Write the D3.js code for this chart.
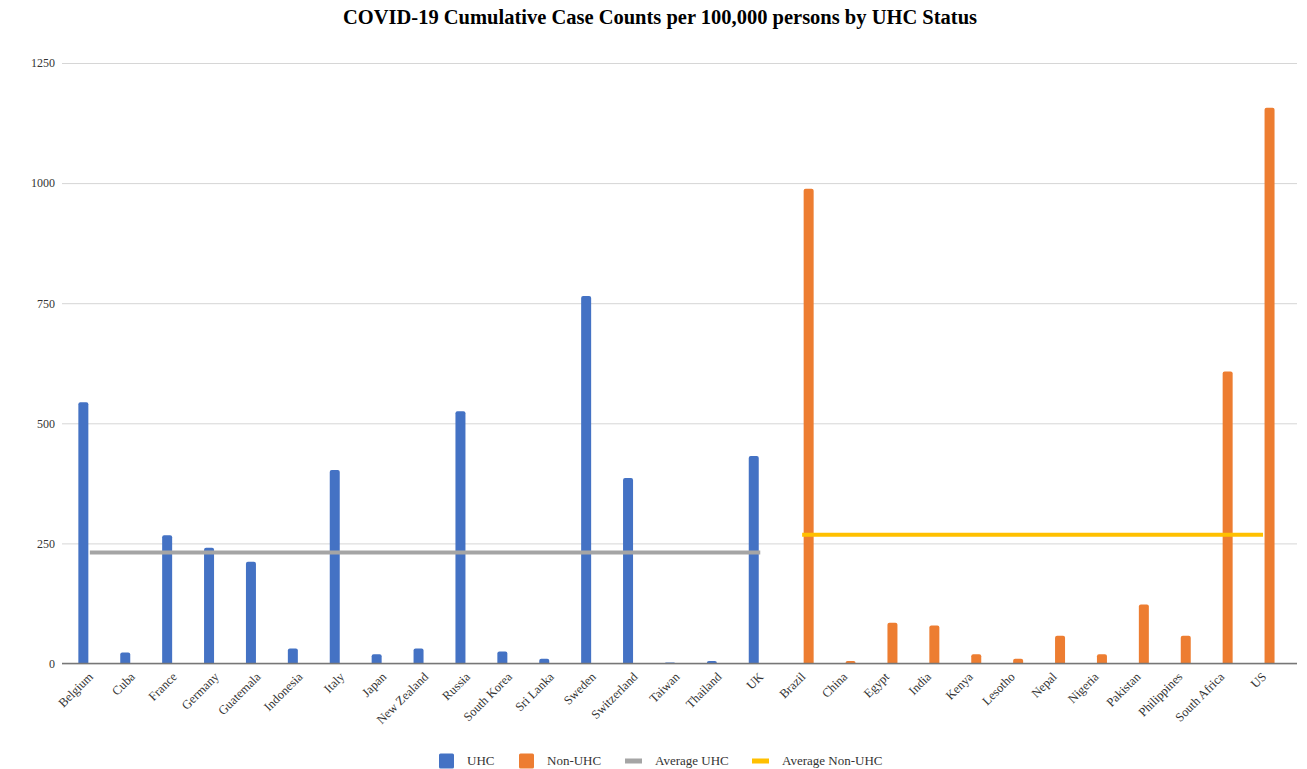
<!DOCTYPE html>
<html>
<head>
<meta charset="utf-8">
<script src="https://cdn.jsdelivr.net/npm/d3@7"></script>
<style>
  html, body { margin: 0; padding: 0; background: #fff; }
  svg { display: block; font-family: "Liberation Serif", "Times New Roman", serif; }
</style>
</head>
<body>
<svg id="chart" width="1307" height="769"></svg>
<script>
// Countries grouped by universal health coverage (UHC) status
const uhcCountries = ["Belgium", "Cuba", "France", "Germany", "Guatemala", "Indonesia", "Italy", "Japan",
  "New Zealand", "Russia", "South Korea", "Sri Lanka", "Sweden", "Switzerland", "Taiwan", "Thailand", "UK"];
const nonUhcCountries = ["Brazil", "China", "Egypt", "India", "Kenya", "Lesotho", "Nepal", "Nigeria",
  "Pakistan", "Philippines", "South Africa", "US"];

// Cumulative cases per 100,000 persons
const uhcValues = [544, 23, 267, 241, 212, 31, 403, 19, 31, 525, 25, 10, 765, 386, 2, 5, 432];
const nonUhcValues = [988, 5, 85, 79, 19, 10, 58, 19, 123, 58, 608, 1157];

// Group averages drawn as horizontal lines
const averageUhc = 231;
const averageNonUhc = 268;

const yTicks = [0, 250, 500, 750, 1000, 1250];
const colors = { "UHC": "#4472C4", "Non-UHC": "#ED7D31", "Average UHC": "#A5A5A5", "Average Non-UHC": "#FFC000" };

const categories = uhcCountries.concat(nonUhcCountries);
const rows = categories.map((c, i) => ({
  country: c,
  "UHC": i < uhcCountries.length ? uhcValues[i] : null,
  "Non-UHC": i >= uhcCountries.length ? nonUhcValues[i - uhcCountries.length] : null
}));

const svg = d3.select("#chart");
const plot = { left: 62, right: 1297, top: 63, bottom: 663.5 };

const x = d3.scaleBand().domain(categories).range([68.9, 1284]).paddingInner(0).paddingOuter(0);
const xInner = d3.scaleBand().domain(["UHC", "Non-UHC"]).range([-11.5, 11.5]).paddingInner(3 / 13);
const y = d3.scaleLinear().domain([0, 1250]).range([plot.bottom, plot.top]);
const cx = c => x(c) + x.bandwidth() / 2;

// Title
svg.append("text")
  .attr("x", 660).attr("y", 24)
  .attr("text-anchor", "middle")
  .attr("font-size", 20.5).attr("font-weight", "bold").attr("fill", "#000")
  .text("COVID-19 Cumulative Case Counts per 100,000 persons by UHC Status");

// Horizontal gridlines and y tick labels
const yAxis = d3.axisLeft(y).tickValues(yTicks).tickFormat(d3.format("d"))
  .tickSize(-(plot.right - plot.left)).tickPadding(8);
const gy = svg.append("g").attr("transform", `translate(${plot.left},0)`).call(yAxis);
gy.select(".domain").remove();
gy.selectAll(".tick line").attr("stroke", "#d6d6d6").attr("stroke-width", 1);
gy.selectAll(".tick text")
  .attr("font-size", 12).attr("fill", "#333").attr("font-family", "Liberation Serif, serif")
  .attr("x", -7);

// Bars with slightly rounded tops
function barPath(x0, w, yTop, yBase, r) {
  r = Math.min(r, (yBase - yTop), w / 2);
  return `M${x0},${yBase}V${yTop + r}Q${x0},${yTop} ${x0 + r},${yTop}H${x0 + w - r}Q${x0 + w},${yTop} ${x0 + w},${yTop + r}V${yBase}Z`;
}

["UHC", "Non-UHC"].forEach(s => {
  svg.append("g").selectAll("path")
    .data(rows.filter(d => d[s] !== null))
    .join("path")
    .attr("fill", colors[s])
    .attr("d", d => barPath(cx(d.country) + xInner(s), xInner.bandwidth(), y(d[s]), y(0), 2));
});

// Category axis with rotated labels
const xAxis = d3.axisBottom(x).tickSize(0).tickPadding(0);
const gx = svg.append("g").attr("transform", `translate(0,${plot.bottom})`).call(xAxis);
gx.select(".domain").remove();
svg.append("line")
  .attr("x1", plot.left).attr("x2", plot.right)
  .attr("y1", y(0)).attr("y2", y(0))
  .attr("stroke", "#777").attr("stroke-width", 1.5);

gx.selectAll(".tick text")
  .attr("font-size", 12.5).attr("fill", "#333").attr("font-family", "Liberation Serif, serif")
  .attr("text-anchor", "end")
  .attr("dy", 0)
  .attr("transform", "translate(4,14) rotate(-45)");

// Average lines across each group
const line = d3.line().x(d => cx(d.country)).y(d => y(d.v));
svg.append("path")
  .datum([uhcCountries[0], uhcCountries[uhcCountries.length - 1]].map(c => ({ country: c, v: averageUhc })))
  .attr("d", line).attr("fill", "none")
  .attr("stroke", colors["Average UHC"]).attr("stroke-width", 4);
svg.append("path")
  .datum([nonUhcCountries[0], nonUhcCountries[nonUhcCountries.length - 1]].map(c => ({ country: c, v: averageNonUhc })))
  .attr("d", line).attr("fill", "none")
  .attr("stroke", colors["Average Non-UHC"]).attr("stroke-width", 4);

// Legend
const legendY = 761;
const legendItems = [
  { name: "UHC", x: 439, type: "box" },
  { name: "Non-UHC", x: 519, type: "box" },
  { name: "Average UHC", x: 625, type: "line" },
  { name: "Average Non-UHC", x: 752, type: "line" }
];
const lg = svg.append("g");
legendItems.forEach(it => {
  if (it.type === "box") {
    lg.append("rect").attr("x", it.x).attr("y", legendY - 7.5).attr("width", 15).attr("height", 15)
      .attr("rx", 1.5).attr("fill", colors[it.name]);
    lg.append("text").attr("x", it.x + 28).attr("y", legendY + 4).attr("font-size", 13).attr("fill", "#333")
      .text(it.name);
  } else {
    lg.append("rect").attr("x", it.x).attr("y", legendY - 2.5).attr("width", 17).attr("height", 5)
      .attr("fill", colors[it.name]);
    lg.append("text").attr("x", it.x + 30).attr("y", legendY + 4).attr("font-size", 13).attr("fill", "#333")
      .text(it.name);
  }
});
</script>
</body>
</html>
